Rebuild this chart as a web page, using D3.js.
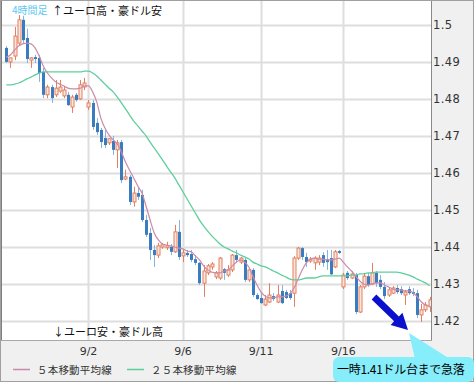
<!DOCTYPE html>
<html>
<head>
<meta charset="utf-8">
<script src="https://cdn.jsdelivr.net/npm/d3@7"></script>
<style>
  html, body { margin: 0; padding: 0; background: #fff; }
  svg { display: block; }
  .jp { font-family: "Noto Sans CJK JP", sans-serif; }
  .num { font-family: "DejaVu Sans", sans-serif; }
</style>
</head>
<body>
<svg id="chart" width="474" height="382"></svg>
<script>
// 4-hour candles, EUR/AUD
const candleOpen = [
  1.4938, 1.4900, 1.4916, 1.4951, 1.5014, 1.4965, 1.4905, 1.4913, 1.4911, 1.4873,
  1.4811, 1.4832, 1.4811, 1.4821, 1.4808, 1.4811, 1.4778, 1.4811, 1.4800, 1.4832,
  1.4778, 1.4789, 1.4735, 1.4716, 1.4694, 1.4681, 1.4686, 1.4662, 1.4683, 1.4583,
  1.4589, 1.4521, 1.4545, 1.4540, 1.4472, 1.4437, 1.4391, 1.4377, 1.4399, 1.4397,
  1.4399, 1.4386, 1.4440, 1.4375, 1.4383, 1.4380, 1.4366, 1.4356, 1.4301, 1.4329,
  1.4345, 1.4318, 1.4315, 1.4339, 1.4323, 1.4337, 1.4377, 1.4358, 1.4364, 1.4310,
  1.4337, 1.4269, 1.4261, 1.4242, 1.4250, 1.4266, 1.4250, 1.4280, 1.4277, 1.4274,
  1.4274, 1.4369, 1.4396, 1.4372, 1.4361, 1.4356, 1.4358, 1.4377, 1.4366, 1.4369,
  1.4345, 1.4388, 1.4291, 1.4329, 1.4315, 1.4323, 1.4223, 1.4291, 1.4320, 1.4299,
  1.4329, 1.4310, 1.4291, 1.4269, 1.4274, 1.4288, 1.4285, 1.4269, 1.4285, 1.4277,
  1.4274, 1.4215, 1.4229, 1.4237
];
const candleHigh = [
  1.4943, 1.4911, 1.4995, 1.5027, 1.5025, 1.4990, 1.4913, 1.4919, 1.4919, 1.4884,
  1.4838, 1.4838, 1.4851, 1.4851, 1.4835, 1.4819, 1.4811, 1.4816, 1.4851, 1.4857,
  1.4797, 1.4797, 1.4748, 1.4721, 1.4716, 1.4694, 1.4700, 1.4689, 1.4689, 1.4608,
  1.4594, 1.4562, 1.4559, 1.4554, 1.4486, 1.4451, 1.4404, 1.4410, 1.4410, 1.4413,
  1.4407, 1.4459, 1.4472, 1.4391, 1.4391, 1.4391, 1.4377, 1.4358, 1.4350, 1.4353,
  1.4358, 1.4334, 1.4372, 1.4342, 1.4350, 1.4380, 1.4391, 1.4372, 1.4369, 1.4342,
  1.4342, 1.4274, 1.4274, 1.4269, 1.4301, 1.4274, 1.4296, 1.4296, 1.4283, 1.4283,
  1.4374, 1.4399, 1.4399, 1.4383, 1.4372, 1.4374, 1.4377, 1.4385, 1.4391, 1.4391,
  1.4391, 1.4391, 1.4329, 1.4334, 1.4334, 1.4329, 1.4296, 1.4329, 1.4329, 1.4356,
  1.4334, 1.4323, 1.4304, 1.4288, 1.4293, 1.4296, 1.4293, 1.4283, 1.4293, 1.4288,
  1.4283, 1.4245, 1.4250, 1.4264
];
const candleLow = [
  1.4897, 1.4884, 1.4905, 1.4946, 1.4951, 1.4897, 1.4884, 1.4897, 1.4846, 1.4802,
  1.4802, 1.4789, 1.4805, 1.4816, 1.4802, 1.4781, 1.4762, 1.4792, 1.4797, 1.4824,
  1.4770, 1.4716, 1.4702, 1.4667, 1.4667, 1.4675, 1.4648, 1.4613, 1.4572, 1.4580,
  1.4513, 1.4508, 1.4526, 1.4467, 1.4426, 1.4364, 1.4345, 1.4369, 1.4394, 1.4391,
  1.4377, 1.4383, 1.4364, 1.4358, 1.4372, 1.4358, 1.4350, 1.4296, 1.4264, 1.4323,
  1.4337, 1.4312, 1.4310, 1.4310, 1.4318, 1.4331, 1.4358, 1.4353, 1.4304, 1.4304,
  1.4264, 1.4256, 1.4245, 1.4239, 1.4247, 1.4253, 1.4247, 1.4245, 1.4258, 1.4256,
  1.4237, 1.4364, 1.4364, 1.4345, 1.4356, 1.4337, 1.4350, 1.4345, 1.4337, 1.4323,
  1.4342, 1.4380, 1.4285, 1.4310, 1.4312, 1.4217, 1.4220, 1.4285, 1.4291, 1.4296,
  1.4291, 1.4285, 1.4258, 1.4264, 1.4272, 1.4272, 1.4269, 1.4242, 1.4269, 1.4266,
  1.4207, 1.4196, 1.4223, 1.4223
];
const candleClose = [
  1.4900, 1.4911, 1.4970, 1.5014, 1.4959, 1.4908, 1.4911, 1.4908, 1.4870, 1.4811,
  1.4832, 1.4802, 1.4829, 1.4832, 1.4824, 1.4783, 1.4805, 1.4797, 1.4838, 1.4843,
  1.4789, 1.4724, 1.4710, 1.4683, 1.4675, 1.4692, 1.4662, 1.4681, 1.4580, 1.4589,
  1.4521, 1.4545, 1.4535, 1.4472, 1.4432, 1.4391, 1.4377, 1.4402, 1.4405, 1.4402,
  1.4386, 1.4440, 1.4372, 1.4383, 1.4377, 1.4364, 1.4356, 1.4301, 1.4334, 1.4348,
  1.4353, 1.4329, 1.4369, 1.4329, 1.4337, 1.4377, 1.4364, 1.4369, 1.4310, 1.4337,
  1.4269, 1.4258, 1.4247, 1.4258, 1.4269, 1.4258, 1.4269, 1.4247, 1.4261, 1.4261,
  1.4369, 1.4396, 1.4372, 1.4358, 1.4366, 1.4369, 1.4369, 1.4356, 1.4358, 1.4325,
  1.4386, 1.4383, 1.4323, 1.4315, 1.4326, 1.4223, 1.4291, 1.4320, 1.4296, 1.4329,
  1.4301, 1.4291, 1.4266, 1.4283, 1.4288, 1.4277, 1.4274, 1.4277, 1.4274, 1.4272,
  1.4215, 1.4229, 1.4242, 1.4256
];
// 5-bar and 25-bar moving averages
const ma5 = [
  1.4913, 1.4919, 1.4932, 1.4943, 1.4949, 1.4951, 1.4949, 1.4938, 1.4916, 1.4889,
  1.4870, 1.4857, 1.4846, 1.4840, 1.4835, 1.4829, 1.4827, 1.4827, 1.4829, 1.4835,
  1.4835, 1.4819, 1.4792, 1.4748, 1.4721, 1.4702, 1.4689, 1.4678, 1.4656, 1.4629,
  1.4607, 1.4586, 1.4564, 1.4545, 1.4510, 1.4472, 1.4437, 1.4418, 1.4407, 1.4404,
  1.4402, 1.4399, 1.4396, 1.4394, 1.4388, 1.4386, 1.4375, 1.4364, 1.4348, 1.4337,
  1.4331, 1.4329, 1.4329, 1.4334, 1.4337, 1.4348, 1.4358, 1.4364, 1.4358, 1.4345,
  1.4320, 1.4296, 1.4277, 1.4266, 1.4261, 1.4261, 1.4264, 1.4264, 1.4266, 1.4272,
  1.4288, 1.4312, 1.4337, 1.4356, 1.4366, 1.4369, 1.4366, 1.4366, 1.4364, 1.4364,
  1.4366, 1.4369, 1.4358, 1.4345, 1.4334, 1.4320, 1.4307, 1.4299, 1.4296, 1.4299,
  1.4302, 1.4302, 1.4296, 1.4291, 1.4285, 1.4283, 1.4283, 1.4280, 1.4280, 1.4275,
  1.4264, 1.4250, 1.4242, 1.4239
];
const ma25 = [
  1.4838, 1.4838, 1.4840, 1.4843, 1.4848, 1.4854, 1.4859, 1.4865, 1.4870, 1.4873,
  1.4873, 1.4873, 1.4873, 1.4873, 1.4873, 1.4873, 1.4873, 1.4873, 1.4873, 1.4875,
  1.4875, 1.4870, 1.4862, 1.4851, 1.4840, 1.4829, 1.4819, 1.4805, 1.4789, 1.4773,
  1.4756, 1.4740, 1.4727, 1.4713, 1.4700, 1.4683, 1.4667, 1.4651, 1.4635, 1.4618,
  1.4602, 1.4586, 1.4567, 1.4548, 1.4529, 1.4510, 1.4491, 1.4472, 1.4456, 1.4442,
  1.4429, 1.4418, 1.4407, 1.4399, 1.4394, 1.4388, 1.4383, 1.4377, 1.4372, 1.4367,
  1.4358, 1.4353, 1.4348, 1.4345, 1.4340, 1.4334, 1.4329, 1.4323, 1.4318, 1.4312,
  1.4310, 1.4310, 1.4312, 1.4315, 1.4315, 1.4315, 1.4318, 1.4321, 1.4321, 1.4321,
  1.4321, 1.4321, 1.4321, 1.4321, 1.4323, 1.4323, 1.4326, 1.4326, 1.4329, 1.4329,
  1.4331, 1.4331, 1.4331, 1.4331, 1.4331, 1.4331, 1.4329, 1.4326, 1.4323, 1.4318,
  1.4312, 1.4307, 1.4302, 1.4294
];
// date ticks: candle index where each day label sits
const dateTickIndex = [20, 43, 62, 82];
const dateTickLabels = ["9/2", "9/6", "9/11", "9/16"];
const priceTicks = [1.42, 1.43, 1.44, 1.45, 1.46, 1.47, 1.48, 1.49, 1.5];

const svg = d3.select("#chart");
const W = 474, H = 382;
const plot = { left: 2, top: 1, right: 431, bottom: 340 };

// backgrounds
svg.append("rect").attr("width", W).attr("height", H).attr("fill", "#f0f0f0");
svg.append("rect")
  .attr("x", plot.left).attr("y", plot.top)
  .attr("width", plot.right - plot.left).attr("height", plot.bottom - plot.top)
  .attr("fill", "#fff");

const idx = d3.range(candleOpen.length);
const x = d3.scalePoint().domain(idx).range([6.3, 429.6]);
const y = d3.scaleLinear().domain([1.42, 1.5]).range([320.5, 25]);

svg.append("clipPath").attr("id", "clip")
  .append("rect")
  .attr("x", plot.left).attr("y", plot.top)
  .attr("width", plot.right - plot.left).attr("height", plot.bottom - plot.top);

const g = svg.append("g").attr("clip-path", "url(#clip)");

// grid
g.selectAll("line.hgrid")
  .data(priceTicks)
  .join("line")
  .attr("class", "hgrid")
  .attr("x1", plot.left).attr("x2", plot.right)
  .attr("y1", d => Math.round(y(d)) + 0.5).attr("y2", d => Math.round(y(d)) + 0.5)
  .attr("stroke", "#dedede").attr("stroke-width", 2);

g.selectAll("line.vgrid")
  .data(dateTickIndex)
  .join("line")
  .attr("class", "vgrid")
  .attr("x1", d => Math.round(x(d)) + 0.5).attr("x2", d => Math.round(x(d)) + 0.5)
  .attr("y1", plot.top).attr("y2", plot.bottom)
  .attr("stroke", "#dedede").attr("stroke-width", 2);

// candles
const upColor = "#e2805f", downColor = "#3a7cc0", downWick = "#86b4de";
const candles = g.selectAll("g.candle")
  .data(idx)
  .join("g")
  .attr("class", "candle");

candles.append("line")
  .attr("x1", i => Math.round(x(i)) + 0.5).attr("x2", i => Math.round(x(i)) + 0.5)
  .attr("y1", i => y(candleHigh[i])).attr("y2", i => y(candleLow[i]))
  .attr("stroke", i => candleClose[i] >= candleOpen[i] ? upColor : downWick)
  .attr("stroke-width", 1);

candles.append("rect")
  .attr("x", i => Math.round(x(i)) - 1)
  .attr("width", 3)
  .attr("y", i => y(Math.max(candleOpen[i], candleClose[i])))
  .attr("height", i => Math.max(1.5, Math.abs(y(candleOpen[i]) - y(candleClose[i]))))
  .attr("fill", i => candleClose[i] >= candleOpen[i] ? "#fbe6de" : downColor)
  .attr("stroke", i => candleClose[i] >= candleOpen[i] ? upColor : "none")
  .attr("stroke-width", 1);

// moving averages
const line = arr => d3.line()
  .x(i => x(i))
  .y(i => y(arr[i]))
  .curve(d3.curveMonotoneX)(idx);

g.append("path")
  .attr("d", line(ma25))
  .attr("fill", "none")
  .attr("stroke", "#5ccf9c")
  .attr("stroke-width", 1.3);

g.append("path")
  .attr("d", line(ma5))
  .attr("fill", "none")
  .attr("stroke", "#cc8aaa")
  .attr("stroke-width", 1.2);

// price axis on the right
svg.selectAll("text.ptick")
  .data(priceTicks)
  .join("text")
  .attr("class", "ptick num")
  .attr("x", 433)
  .attr("y", d => y(d) + 4)
  .attr("font-size", 11.5)
  .attr("letter-spacing", 0.4)
  .attr("fill", "#333")
  .text(d => d3.format("")(d));

// date labels
svg.selectAll("text.dtick")
  .data(dateTickIndex)
  .join("text")
  .attr("class", "dtick num")
  .attr("x", d => x(d))
  .attr("y", 355)
  .attr("text-anchor", "middle")
  .attr("font-size", 11)
  .attr("fill", "#333")
  .text((d, i) => dateTickLabels[i]);

// captions
svg.append("text").attr("class", "jp")
  .attr("x", 12).attr("y", 14)
  .attr("font-size", 10)
  .attr("fill", "#5cc8f2")
  .text("4時間足");

svg.append("text").attr("class", "jp")
  .attr("x", 52).attr("y", 15)
  .attr("font-size", 11)
  .attr("fill", "#111")
  .text("↑ユーロ高・豪ドル安");

svg.append("text").attr("class", "jp")
  .attr("x", 53).attr("y", 336)
  .attr("font-size", 11)
  .attr("fill", "#111")
  .text("↓ユーロ安・豪ドル高");

// legend
const legend = [
  { label: "５本移動平均線", color: "#cc8aaa", x: 13 },
  { label: "２５本移動平均線", color: "#5ccf9c", x: 127 }
];
const lg = svg.selectAll("g.legend").data(legend).join("g").attr("class", "legend");
lg.append("line")
  .attr("x1", d => d.x).attr("x2", d => d.x + 17)
  .attr("y1", 369.5).attr("y2", 369.5)
  .attr("stroke", d => d.color).attr("stroke-width", 1.5);
lg.append("text").attr("class", "jp")
  .attr("x", d => d.x + 24).attr("y", 374)
  .attr("font-size", 10.5)
  .attr("letter-spacing", 0.2)
  .attr("fill", "#333")
  .text(d => d.label);

// plot frame
svg.append("line").attr("x1", 1.5).attr("x2", 1.5).attr("y1", 0).attr("y2", plot.bottom)
  .attr("stroke", "#7f7f7f");
svg.append("line").attr("x1", 0).attr("x2", W).attr("y1", 0.5).attr("y2", 0.5)
  .attr("stroke", "#7f7f7f");
svg.append("line").attr("x1", plot.right + 0.5).attr("x2", plot.right + 0.5)
  .attr("y1", 0).attr("y2", plot.bottom + 1)
  .attr("stroke", "#8a8a8a");
svg.append("line").attr("x1", 1).attr("x2", plot.right + 1)
  .attr("y1", plot.bottom + 0.5).attr("y2", plot.bottom + 0.5)
  .attr("stroke", "#a8a8a8");
svg.append("rect").attr("x", 0.5).attr("y", 0.5).attr("width", W - 1).attr("height", H - 1)
  .attr("fill", "none").attr("stroke", "#a0a0a0");

// drop arrow
const S = [374, 297], T = [408, 330];
const len = Math.hypot(T[0] - S[0], T[1] - S[1]);
const d = [(T[0] - S[0]) / len, (T[1] - S[1]) / len];
const n = [-d[1], d[0]];
const B = [T[0] - d[0] * 16, T[1] - d[1] * 16];
const pt = (p, k, w) => [p[0] + n[0] * w * k, p[1] + n[1] * w * k];
svg.append("path")
  .attr("d", d3.line()([
    pt(S, 1, 3.4), pt(B, 1, 3.4), pt(B, 1, 8.5), T,
    pt(B, -1, 8.5), pt(B, -1, 3.4), pt(S, -1, 3.4)
  ]) + "Z")
  .attr("fill", "#0a10cc");

// callout
const callout = svg.append("g");
callout.append("path")
  .attr("d", "M409,333 L415,359 L450,359 Z")
  .attr("fill", "#86edfb");
callout.append("rect")
  .attr("x", 333).attr("y", 357).attr("width", 141).attr("height", 25)
  .attr("rx", 6)
  .attr("fill", "#86edfb");
callout.append("text").attr("class", "jp")
  .attr("x", 337).attr("y", 374)
  .attr("font-size", 12)
  .attr("letter-spacing", -0.3)
  .attr("fill", "#000")
  .text("一時1.41ドル台まで急落");
</script>
</body>
</html>
